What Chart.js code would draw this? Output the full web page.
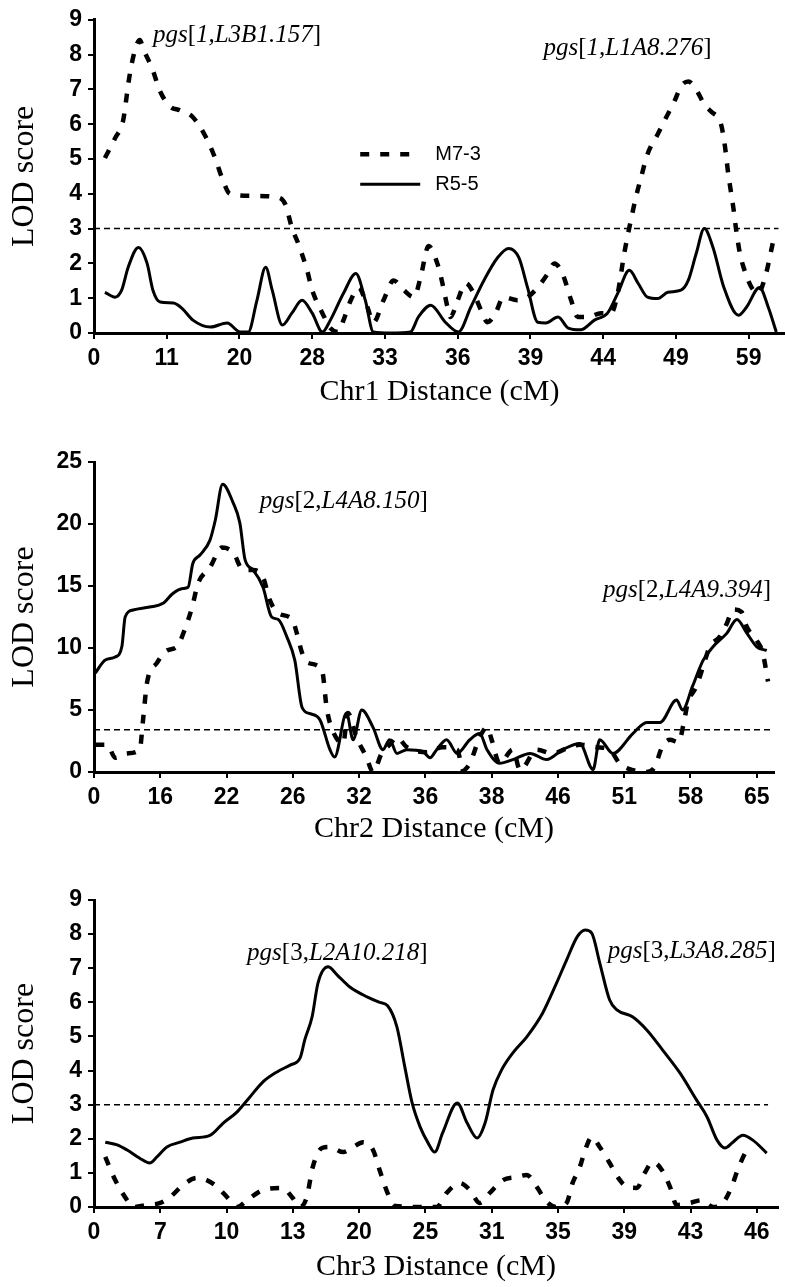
<!DOCTYPE html>
<html lang="en">
<head>
<meta charset="UTF-8">
<title>LOD score – Chr1, Chr2, Chr3</title>
<script src="https://cdn.jsdelivr.net/npm/chart.js"></script>
<style>
  body { margin: 0; background: #fff; }
  .panel { position: absolute; left: 0; width: 785px; }
</style>
</head>
<body>

<div class="panel" style="top:0;height:410px"><canvas id="chr1" width="785" height="410"></canvas></div>
<div class="panel" style="top:410px;height:440px"><canvas id="chr2" width="785" height="440"></canvas></div>
<div class="panel" style="top:850px;height:437px"><canvas id="chr3" width="785" height="437"></canvas></div>

<script>
// ---- data (x = position along the evenly spaced marker axis, 0 = first tick) ----
const seriesNames = ['M7-3', 'R5-5'];

// Chr1
const chr1Ticks = ['0', '11', '20', '28', '33', '36', '39', '44', '49', '59'];
const chr1Threshold = 3;
const chr1PosM73 = [0.15,0.29,0.4,0.44,0.47,0.52,0.59,0.63,0.68,0.8,0.91,1.05,1.18,1.36,1.53,1.67,1.76,1.87,2.19,2.52,2.63,2.72,2.81,2.93,3.0,3.14,3.25,3.36,3.43,3.53,3.64,3.76,3.84,3.98,4.12,4.25,4.4,4.49,4.6,4.72,4.79,4.86,4.9,5.0,5.11,5.22,5.32,5.41,5.52,5.63,5.82,5.96,6.1,6.24,6.33,6.44,6.56,6.65,6.79,6.97,7.11,7.2,7.29,7.36,7.45,7.52,7.61,7.75,7.86,7.98,8.07,8.17,8.28,8.39,8.48,8.62,8.67,8.72,8.79,8.83,8.88,8.93,9.04,9.13,9.24,9.31,9.36];
const chr1LodM73 = [5.03,5.6,6.1,6.66,7.14,7.75,8.3,8.42,8.15,7.6,6.94,6.5,6.4,6.2,5.66,5.0,4.46,4.0,3.94,3.9,3.7,3.03,2.56,1.8,1.23,0.57,0.14,0.03,0.37,0.94,1.3,0.74,0.3,0.94,1.51,1.25,1.03,1.6,2.5,2.0,1.43,0.74,0.46,0.94,1.43,1.14,0.66,0.31,0.57,1.03,0.94,1.03,1.31,1.71,2.0,1.71,0.94,0.46,0.46,0.57,0.57,1.14,2.29,3.03,3.9,4.46,5.14,5.71,6.17,6.66,7.09,7.23,6.99,6.57,6.37,6.0,5.43,4.57,3.6,2.94,2.29,1.89,1.31,1.14,1.71,2.37,2.86];
const chr1PosR55 = [0.15,0.29,0.38,0.47,0.61,0.73,0.81,0.91,1.09,1.21,1.36,1.6,1.83,2.01,2.12,2.24,2.36,2.45,2.59,2.72,2.86,3.0,3.14,3.25,3.43,3.6,3.73,3.84,4.08,4.35,4.46,4.63,4.83,5.01,5.18,5.36,5.55,5.7,5.84,5.96,6.1,6.21,6.38,6.52,6.69,6.88,7.06,7.2,7.36,7.48,7.61,7.75,7.89,8.07,8.17,8.28,8.39,8.51,8.66,8.86,8.97,9.15,9.27,9.38];
const chr1LodR55 = [1.17,1.03,1.23,1.89,2.46,2.0,1.23,0.89,0.86,0.71,0.37,0.17,0.29,0.03,0.03,0.94,1.89,1.23,0.23,0.57,0.94,0.57,0.03,0.37,1.14,1.71,0.94,0.03,0.0,0.03,0.46,0.8,0.31,0.03,0.74,1.51,2.17,2.43,2.17,1.31,0.31,0.29,0.46,0.14,0.09,0.37,0.57,1.14,1.8,1.43,1.03,0.99,1.17,1.23,1.51,2.29,3.0,2.46,1.31,0.51,0.74,1.31,0.74,0.03];

// Chr2
const chr2Ticks = ['0', '16', '22', '26', '32', '36', '38', '46', '51', '58', '65'];
const chr2Threshold = 3.4;
const chr2PosM73 = [0.02,0.2,0.32,0.5,0.69,0.74,0.8,0.95,1.1,1.25,1.37,1.48,1.57,1.75,1.93,2.1,2.25,2.4,2.55,2.65,2.78,2.99,3.06,3.14,3.23,3.44,3.51,3.56,3.76,3.83,3.96,4.11,4.21,4.34,4.46,4.57,4.72,5.02,5.26,5.48,5.57,5.67,5.82,5.93,6.0,6.12,6.32,6.43,6.68,6.92,7.13,7.33,7.59,7.78,7.93,8.13,8.34,8.46,8.57,8.69,8.82,8.9,8.96,9.09,9.19,9.29,9.44,9.55,9.64,9.77,9.85,10.0,10.09,10.17];
const chr2LodM73 = [2.2,2.2,1.15,1.5,1.8,4.2,7.2,8.8,9.8,10.1,11.5,13.3,15.2,16.5,18.1,17.7,16.3,16.3,15.7,13.9,12.8,12.3,11.2,9.6,8.8,8.2,5.2,3.95,2.3,4.75,2.8,1.2,0.0,1.5,2.2,2.8,2.0,1.6,2.0,1.8,0.15,0.7,2.8,3.6,2.6,0.7,1.8,0.15,1.8,1.5,1.9,2.2,2.0,1.8,0.7,0.15,0.0,0.4,2.0,2.6,2.4,4.0,5.6,6.9,8.5,10.1,10.9,12.0,13.1,12.9,11.7,10.6,9.6,7.3];
const chr2PosR55 = [0.02,0.17,0.32,0.42,0.47,0.59,0.84,1.04,1.19,1.34,1.42,1.49,1.6,1.75,1.83,1.94,2.1,2.2,2.28,2.4,2.55,2.68,2.78,2.91,3.03,3.14,3.26,3.41,3.56,3.63,3.81,3.91,4.04,4.21,4.36,4.46,4.57,4.72,4.96,5.07,5.17,5.32,5.48,5.67,5.82,5.93,6.12,6.32,6.58,6.83,7.07,7.33,7.53,7.63,7.83,8.13,8.34,8.54,8.79,8.88,9.03,9.19,9.34,9.55,9.7,9.85,10.0,10.15];
const chr2LodR55 = [7.98,9.03,9.27,10.1,12.5,13.06,13.3,13.6,14.4,14.8,14.9,16.8,17.5,18.7,20.3,23.2,21.7,20.1,17.1,16.3,14.9,12.5,12.3,10.9,9.0,5.2,4.7,4.2,1.8,1.2,4.75,2.6,5.0,3.6,1.8,2.6,1.5,1.8,1.65,1.15,1.8,2.6,1.5,2.6,3.1,1.8,0.7,1.0,1.5,1.0,1.8,2.3,0.2,2.6,1.5,3.1,4.0,4.0,5.8,5.0,6.9,9.0,10.1,11.2,12.3,11.2,10.1,9.8];

// Chr3
const chr3Ticks = ['0', '7', '10', '13', '20', '25', '31', '35', '39', '43', '46'];
const chr3Threshold = 3;
const chr3PosM73 = [0.17,0.32,0.5,0.59,0.8,1.0,1.15,1.34,1.55,1.7,1.86,2.05,2.16,2.31,2.55,2.84,3.0,3.11,3.21,3.3,3.44,3.56,3.76,3.91,4.06,4.21,4.31,4.43,4.54,4.92,5.17,5.32,5.52,5.67,5.82,5.97,6.17,6.38,6.53,6.68,6.83,6.98,7.13,7.22,7.33,7.41,7.51,7.63,7.78,7.9,8.04,8.19,8.31,8.43,8.57,8.69,8.79,8.99,9.17,9.34,9.49,9.62,9.71,9.85,9.89];
const chr3LodM73 = [1.47,0.79,0.2,0.0,0.06,0.12,0.29,0.64,0.85,0.79,0.59,0.2,0.0,0.2,0.5,0.56,0.26,0.0,0.29,1.17,1.73,1.76,1.61,1.76,1.9,1.67,1.08,0.41,0.03,0.0,0.0,0.41,0.7,0.5,0.12,0.41,0.79,0.88,0.94,0.59,0.15,0.0,0.12,0.7,1.17,1.67,2.05,1.76,1.29,0.88,0.59,0.56,1.0,1.32,1.08,0.59,0.06,0.12,0.2,0.0,0.12,0.59,1.08,1.67,1.76];
const chr3PosR55 = [0.17,0.35,0.5,0.69,0.84,0.95,1.1,1.3,1.49,1.75,1.95,2.16,2.35,2.55,2.76,2.96,3.11,3.18,3.29,3.38,3.53,3.67,3.86,4.12,4.31,4.43,4.57,4.69,4.8,4.92,5.04,5.14,5.26,5.48,5.63,5.78,5.9,6.02,6.15,6.32,6.53,6.77,6.98,7.13,7.29,7.41,7.51,7.63,7.78,7.89,8.13,8.34,8.58,8.84,9.09,9.25,9.4,9.52,9.64,9.79,9.94,10.15];
const chr3LodR55 = [1.9,1.82,1.67,1.43,1.29,1.47,1.76,1.9,2.02,2.1,2.46,2.79,3.22,3.67,3.96,4.16,4.37,4.9,5.57,6.57,7.04,6.8,6.45,6.16,6.0,5.9,5.28,4.1,3.05,2.35,1.88,1.61,2.17,3.05,2.46,2.02,2.46,3.43,4.02,4.52,4.99,5.69,6.57,7.24,7.92,8.12,8.03,7.16,6.07,5.78,5.57,5.19,4.6,3.93,3.14,2.64,1.96,1.73,1.9,2.1,1.96,1.58];

// ---- plugins ----
const peakLabels = {
    id: 'peakLabels',
    afterDatasetsDraw(chart, args, opts) {
        const {ctx, scales: {x, y}} = chart;
        ctx.save();
        ctx.fillStyle = '#000';
        ctx.textBaseline = 'alphabetic';
        (opts.items || []).forEach(item => {
            let px = x.getPixelForValue(item.x);
            const py = y.getPixelForValue(item.y);
            item.parts.forEach(p => {
                ctx.font = (p[1] ? 'italic ' : '') + '25px "Liberation Serif", "Times New Roman", serif';
                ctx.fillText(p[0], px, py);
                px += ctx.measureText(p[0]).width;
            });
        });
        ctx.restore();
    }
};

const lineKey = {
    id: 'lineKey',
    afterDatasetsDraw(chart, args, opts) {
        if (!opts.display) return;
        const {ctx, scales: {x, y}} = chart;
        const x0 = x.getPixelForValue(opts.x);
        const y0 = y.getPixelForValue(opts.y);
        chart.data.datasets.filter(d => !d.isThreshold).forEach((ds, i) => {
            const yy = y0 + i * 30;
            ctx.save();
            ctx.strokeStyle = ds.borderColor;
            ctx.lineWidth = ds.borderWidth;
            ctx.setLineDash(ds.borderDash || []);
            ctx.beginPath();
            ctx.moveTo(x0, yy);
            ctx.lineTo(x0 + 60, yy);
            ctx.stroke();
            ctx.setLineDash([]);
            ctx.fillStyle = '#000';
            ctx.font = '20px "Liberation Sans", Arial, sans-serif';
            ctx.textBaseline = 'middle';
            ctx.fillText(ds.label, x0 + 75, yy);
            ctx.restore();
        });
    }
};

const tickFont = {family: '"Liberation Sans", Arial, sans-serif', size: 23, weight: 'bold'};
const titleFont = {family: '"Liberation Serif", "Times New Roman", serif', size: 30};

function points(pos, lod) {
    return pos.map((p, i) => ({x: p, y: lod[i]}));
}

function makePanel(id, o) {
    const curve = (label, pos, lod, dashed) => ({
        label: label,
        data: points(pos, lod),
        borderColor: '#000',
        borderWidth: dashed ? 4.5 : 3,
        borderDash: dashed ? [9, 11] : [],
        pointRadius: 0,
        fill: false,
        cubicInterpolationMode: 'monotone'
    });
    return new Chart(document.getElementById(id), {
        type: 'line',
        data: {
            datasets: [
                curve(seriesNames[0], o.posM, o.lodM, true),
                curve(seriesNames[1], o.posR, o.lodR, false),
                {
                    label: 'threshold', isThreshold: true,
                    data: [{x: 0, y: o.threshold}, {x: o.thresholdEnd, y: o.threshold}],
                    borderColor: '#000', borderWidth: 1.5, borderDash: [6, 4], pointRadius: 0
                }
            ]
        },
        options: {
            responsive: false,
            animation: false,
            layout: {padding: {top: o.top, right: o.right, left: 0, bottom: 0}},
            plugins: {
                legend: {display: false},
                tooltip: {enabled: false},
                peakLabels: {items: o.labels},
                lineKey: o.key || {display: false}
            },
            scales: {
                x: {
                    type: 'linear', min: 0, max: o.xMax,
                    afterBuildTicks: ax => { ax.ticks = o.ticks.map((t, i) => ({value: i})); },
                    afterFit: ax => { ax.height = o.xH; },
                    ticks: {callback: v => o.ticks[v], autoSkip: false, maxRotation: 0, minRotation: 0,
                            padding: 6, color: '#000', font: tickFont},
                    grid: {drawOnChartArea: false, drawTicks: true, tickLength: 6, color: '#000', lineWidth: 2},
                    border: {color: '#000', width: 3},
                    title: {display: true, text: o.title, color: '#000', font: titleFont,
                            padding: {top: 0, bottom: o.titlePad}}
                },
                y: {
                    min: 0, max: o.yMax,
                    afterFit: ax => { ax.width = 94; },
                    ticks: {stepSize: o.yStep, padding: 6, color: '#000', font: tickFont},
                    grid: {drawOnChartArea: false, drawTicks: true, tickLength: 6, color: '#000', lineWidth: 2},
                    border: {color: '#000', width: 3},
                    title: {display: true, text: 'LOD score', color: '#000',
                            font: {family: '"Liberation Serif", "Times New Roman", serif', size: 32},
                            padding: {top: 5, bottom: 0}}
                }
            }
        },
        plugins: [peakLabels, lineKey]
    });
}

makePanel('chr1', {
    ticks: chr1Ticks, xMax: 9.5, yMax: 9, yStep: 1, top: 18, right: 0, xH: 77, titlePad: 0,
    posM: chr1PosM73, lodM: chr1LodM73, posR: chr1PosR55, lodR: chr1LodR55,
    threshold: chr1Threshold, thresholdEnd: 9.41,
    title: 'Chr1 Distance (cM)',
    labels: [
        {x: 0.81, y: 8.37, parts: [['pgs', 1], ['[', 0], ['1,L3B1.157', 1], [']', 0]]},
        {x: 6.18, y: 8.0, parts: [['pgs', 1], ['[', 0], ['1,L1A8.276', 1], [']', 0]]}
    ],
    key: {display: true, x: 3.66, y: 5.14}
});

makePanel('chr2', {
    ticks: chr2Ticks, xMax: 10.26, yMax: 25, yStep: 5, top: 52, right: 11, xH: 78, titlePad: 3,
    posM: chr2PosM73, lodM: chr2LodM73, posR: chr2PosR55, lodR: chr2LodR55,
    threshold: chr2Threshold, thresholdEnd: 10.26,
    title: 'Chr2 Distance (cM)',
    labels: [
        {x: 2.5, y: 21.3, parts: [['pgs', 1], ['[2,', 0], ['L4A8.150', 1], [']', 0]]},
        {x: 7.68, y: 14.1, parts: [['pgs', 1], ['[2,', 0], ['L4A9.394', 1], [']', 0]]}
    ]
});

makePanel('chr3', {
    ticks: chr3Ticks, xMax: 10.32, yMax: 9, yStep: 1, top: 50, right: 7, xH: 80, titlePad: 2,
    posM: chr3PosM73, lodM: chr3LodM73, posR: chr3PosR55, lodR: chr3LodR55,
    threshold: chr3Threshold, thresholdEnd: 10.17,
    title: 'Chr3 Distance (cM)',
    labels: [
        {x: 2.31, y: 7.24, parts: [['pgs', 1], ['[3,', 0], ['L2A10.218', 1], [']', 0]]},
        {x: 7.75, y: 7.3, parts: [['pgs', 1], ['[3,', 0], ['L3A8.285', 1], [']', 0]]}
    ]
});
</script>
</body>
</html>
